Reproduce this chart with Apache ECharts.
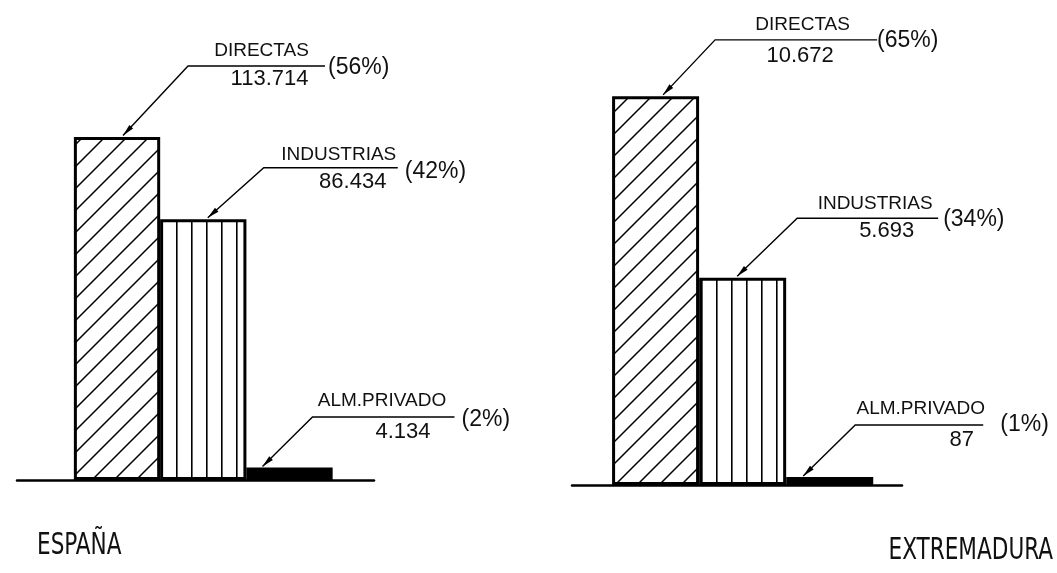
<!DOCTYPE html>
<html>
<head>
<meta charset="utf-8">
<script src="https://cdn.jsdelivr.net/npm/echarts@6/dist/echarts.min.js"></script>
<style>
  html, body { margin: 0; padding: 0; background: #fff; }
  #chart { width: 1057px; height: 573px; }
</style>
</head>
<body>
<div id="chart"></div>
<script>
// datos
const categorias = ['DIRECTAS', 'INDUSTRIAS', 'ALM.PRIVADO'];
const regiones = ['ESPAÑA', 'EXTREMADURA'];
const valoresEspana = [113714, 86434, 4134];
const porcentajesEspana = [56, 42, 2];
const valoresExtremadura = [10672, 5693, 87];
const porcentajesExtremadura = [65, 34, 1];

const valores = [valoresEspana, valoresExtremadura];
const porcentajes = [porcentajesEspana, porcentajesExtremadura];

// colocacion de las llamadas (desplazamientos en px, solo maquetacion)
const llamadas = [
  [
    { tip: 6, ex: 65, ey: -69.5, len: 137, nx: 73.5, vx: 81.5, px: 140, ny: -15.5, vy: 13, py: 1.5 },
    { tip: 4.5, ex: 56, ey: -50, len: 134, nx: 75, vx: 89, px: 141, ny: -13, vy: 14.5, py: 3.5 },
    { tip: -27, ex: 50, ey: -49.5, len: 142, nx: 69.5, vx: 90.5, px: 149, ny: -16, vy: 14.5, py: 2.5 }
  ],
  [
    { tip: 7.5, ex: 52, ey: -55, len: 162, nx: 87.5, vx: 85, px: 162, ny: -15.5, vy: 16, py: 1 },
    { tip: -5.5, ex: 60, ey: -58, len: 141, nx: 78, vx: 89.5, px: 146, ny: -14, vy: 13, py: 1 },
    { tip: -26.5, ex: 52, ey: -51, len: 128, nx: 65.5, vx: 106.5, px: 145, ny: -16.5, vy: 15, py: 0 }
  ]
];

const fuente = '"Liberation Sans", Arial, sans-serif';
const fuenteTitulo = '"DejaVu Sans Condensed", "DejaVu Sans", sans-serif';

// miles con punto
const formatoMiles = v => String(v).replace(/\B(?=(\d{3})+(?!\d))/g, '.');

// tramas de relleno
function tramaDiagonal() {
  const c = document.createElement('canvas');
  const s = 22;
  c.width = s; c.height = s;
  const ctx = c.getContext('2d');
  ctx.fillStyle = '#fff';
  ctx.fillRect(0, 0, s, s);
  ctx.strokeStyle = '#000';
  ctx.lineWidth = 1.5;
  ctx.beginPath();
  ctx.moveTo(-2, s + 2); ctx.lineTo(s + 2, -2);
  ctx.moveTo(-2, 2); ctx.lineTo(2, -2);
  ctx.moveTo(s - 2, s + 2); ctx.lineTo(s + 2, s - 2);
  ctx.stroke();
  return c;
}

function tramaVertical() {
  const c = document.createElement('canvas');
  c.width = 15; c.height = 10;
  const ctx = c.getContext('2d');
  ctx.fillStyle = '#fff';
  ctx.fillRect(0, 0, 15, 10);
  ctx.fillStyle = '#000';
  ctx.fillRect(11, 0, 1.6, 10);
  return c;
}

const estilos = [
  { color: { image: tramaDiagonal(), repeat: 'repeat' }, borderColor: '#000', borderWidth: 3 },
  { color: { image: tramaVertical(), repeat: 'repeat' }, borderColor: '#000', borderWidth: 3 },
  { color: '#000', borderColor: '#000', borderWidth: 2 }
];

const chart = echarts.init(document.getElementById('chart'), null, { renderer: 'canvas' });

const anchos = [86.3, 87];

function serie(idx) {
  return {
    type: 'bar',
    xAxisIndex: idx,
    yAxisIndex: idx,
    barWidth: anchos[idx],
    barMinHeight: 8,
    silent: true,
    data: valores[idx].map((v, i) => ({ value: [i, v], itemStyle: estilos[i] }))
  };
}

chart.setOption({
  animation: false,
  backgroundColor: '#fff',
  grid: [
    { left: 17, width: 357, top: 118, bottom: 93 },
    { left: 572, width: 330, top: 48, bottom: 88 }
  ],
  xAxis: [
    { type: 'value', gridIndex: 0, min: -1.16, max: 2.98 },
    { type: 'value', gridIndex: 1, min: -0.96, max: 2.83 }
  ].map(a => Object.assign(a, {
    axisLine: { show: true, lineStyle: { color: '#000', width: 2.5 } },
    axisTick: { show: false },
    axisLabel: { show: false },
    splitLine: { show: false }
  })),
  yAxis: [
    { type: 'value', gridIndex: 0, min: 0, max: 120000, show: false },
    { type: 'value', gridIndex: 1, min: 0, max: 12000, show: false }
  ],
  series: [serie(0), serie(1)]
});

// llamadas con flecha, ancladas a la parte alta de cada barra
const elementos = [];
const texto = (t, x, y, size, align) => ({
  type: 'text', silent: true,
  style: {
    text: t, x: x, y: y, fill: '#111',
    fontSize: size, fontFamily: fuente,
    align: align, verticalAlign: 'middle',
    textAlign: align, textVerticalAlign: 'middle'
  }
});

for (let g = 0; g < 2; g++) {
  const base = chart.convertToPixel({ xAxisIndex: g, yAxisIndex: g }, [0, 0])[1];
  valores[g].forEach((v, i) => {
    const L = llamadas[g][i];
    const p = chart.convertToPixel({ xAxisIndex: g, yAxisIndex: g }, [i, v]);
    const borde = estilos[i].borderWidth / 2;
    const tx = p[0] + L.tip;
    const ty = Math.min(p[1], base - 8) - borde;
    const ex = tx + L.ex;
    const ey = ty + L.ey;
    elementos.push({
      type: 'polyline', silent: true,
      shape: { points: [[tx, ty], [ex, ey], [ex + L.len, ey]] },
      style: { stroke: '#000', lineWidth: 1.4, fill: null }
    });
    // punta de flecha
    const d = Math.hypot(L.ex, L.ey);
    const ux = L.ex / d, uy = L.ey / d;
    const bx = tx + ux * 12, by = ty + uy * 12;
    elementos.push({
      type: 'polygon', silent: true,
      shape: { points: [[tx, ty], [bx - uy * 2.6, by + ux * 2.6], [bx + uy * 2.6, by - ux * 2.6]] },
      style: { fill: '#000' }
    });
    elementos.push(texto(categorias[i], ex + L.nx, ey + L.ny, 19, 'center'));
    elementos.push(texto(formatoMiles(v), ex + L.vx, ey + L.vy, 22, 'center'));
    elementos.push(texto('(' + porcentajes[g][i] + '%)', ex + L.px, ey + L.py, 23, 'left'));
  });
}

// nombres de region, letra estrecha
const titulo = (t, x, y, align) => ({
  type: 'text', silent: true, x: x, y: y, scaleX: 0.8,
  style: {
    text: t, x: 0, y: 0, fill: '#111',
    fontSize: 30, fontFamily: fuenteTitulo,
    align: align, verticalAlign: 'middle',
    textAlign: align, textVerticalAlign: 'middle'
  }
});
elementos.push(titulo(regiones[0], 37, 546, 'left'));
elementos.push(titulo(regiones[1], 1053, 551, 'right'));

chart.setOption({ graphic: { elements: elementos } });
</script>
</body>
</html>
